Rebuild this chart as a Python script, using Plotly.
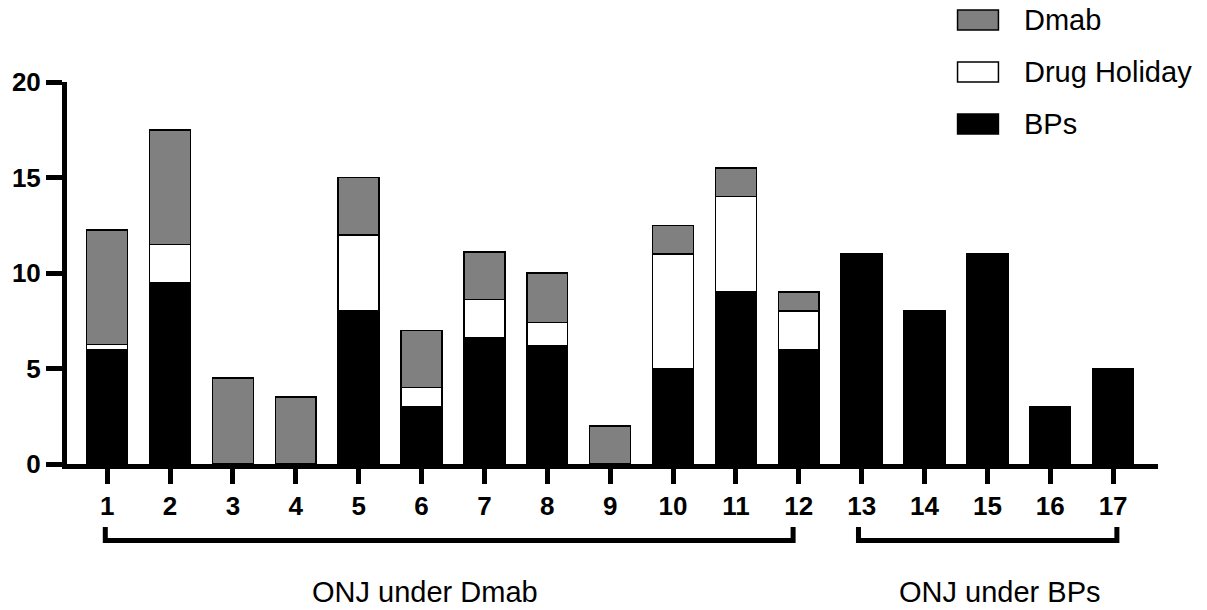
import plotly.graph_objects as go

# ---- data ----
patients = list(range(1, 18))
bps = [6, 9.5, 0, 0, 8, 3, 6.6, 6.2, 0, 5, 9, 6, 11, 8, 11, 3, 5]
holiday = [0.25, 2, 0, 0, 4, 1, 2, 1.2, 0, 6, 5, 2, 0, 0, 0, 0, 0]
dmab = [6, 6, 4.5, 3.5, 3, 3, 2.5, 2.6, 2, 1.5, 1.5, 1, 0, 0, 0, 0, 0]
series_names = ["BPs", "Drug Holiday", "Dmab"]
series_values = [bps, holiday, dmab]
series_colors = ["#000000", "#ffffff", "#808080"]
y_ticks = [0, 5, 10, 15, 20]
groups = [("ONJ under Dmab", 1, 12), ("ONJ under BPs", 13, 17)]

# ---- layout geometry (pixels) ----
W, H = 1207, 610
ML, MR, MT, MB = 64, 49, 82, 146
PW, PH = W - ML - MR, H - MT - MB
FONT = "Liberation Sans, Arial, sans-serif"


def pxx(px):
    return (px - ML) / PW


def pxy(py):
    return (H - MB - py) / PH


fig = go.Figure()
for name, vals, col in zip(series_names, series_values, series_colors):
    fig.add_trace(go.Bar(
        x=patients,
        y=[v if v else None for v in vals],
        name=name,
        width=0.65,
        marker=dict(color=col, line=dict(color="black", width=1.5)),
        showlegend=False,
    ))

shapes = []
annotations = []

# group brackets and labels
bracket_pad = [(-0.03, -0.09), (-0.05, 0.06)]
label_shift = [-0.45, 0.2]
y_top, y_bot = pxy(527), pxy(540.5)
for (label, a, b), (p0, p1), sh in zip(groups, bracket_pad, label_shift):
    x0, x1 = a + p0, b + p1
    shapes.append(dict(
        type="path", xref="x", yref="paper",
        path=f"M {x0},{y_top} L {x0},{y_bot} L {x1},{y_bot} L {x1},{y_top}",
        line=dict(color="black", width=5),
    ))
    annotations.append(dict(
        x=(a + b) / 2 + sh, y=pxy(592), xref="x", yref="paper",
        text=label, showarrow=False, xanchor="center", yanchor="middle",
        font=dict(family=FONT, size=29, color="black"),
    ))

# legend (top to bottom: Dmab, Drug Holiday, BPs)
legend_rows = [20, 72, 124]
for (name, col), yc in zip(list(zip(series_names, series_colors))[::-1], legend_rows):
    shapes.append(dict(
        type="rect", xref="paper", yref="paper",
        x0=pxx(957), x1=pxx(998), y0=pxy(yc - 10), y1=pxy(yc + 10),
        fillcolor=col, line=dict(color="black", width=1.5),
    ))
    annotations.append(dict(
        x=pxx(1022), y=pxy(yc), xref="paper", yref="paper",
        text=name, showarrow=False, xanchor="left", yanchor="middle",
        font=dict(family=FONT, size=29, color="black"),
    ))

fig.update_layout(
    width=W, height=H,
    margin=dict(l=ML, r=MR, t=MT, b=MB, pad=0),
    barmode="stack",
    bargap=0.35,
    plot_bgcolor="white", paper_bgcolor="white",
    shapes=shapes, annotations=annotations,
    showlegend=False,
    font=dict(family=FONT, color="black"),
)
fig.update_xaxes(
    range=[0.361, 17.714],
    tickvals=patients, ticktext=[str(p) for p in patients],
    showline=True, linecolor="black", linewidth=5,
    ticks="outside", ticklen=15, tickwidth=5, tickcolor="black",
    tickfont=dict(family=FONT, size=26, color="black", weight="bold"),
    showgrid=False, zeroline=False,
)
fig.update_yaxes(
    range=[0, 20],
    tickvals=y_ticks, ticktext=[str(t) for t in y_ticks],
    showline=True, linecolor="black", linewidth=5,
    ticks="outside", ticklen=16, tickwidth=5, tickcolor="black",
    tickfont=dict(family=FONT, size=26, color="black", weight="bold"),
    showgrid=False, zeroline=False,
)

fig.write_html(
    "out.html",
    config={"displayModeBar": False},
    post_script="document.body.style.margin='0px';document.body.style.overflow='hidden';",
)
